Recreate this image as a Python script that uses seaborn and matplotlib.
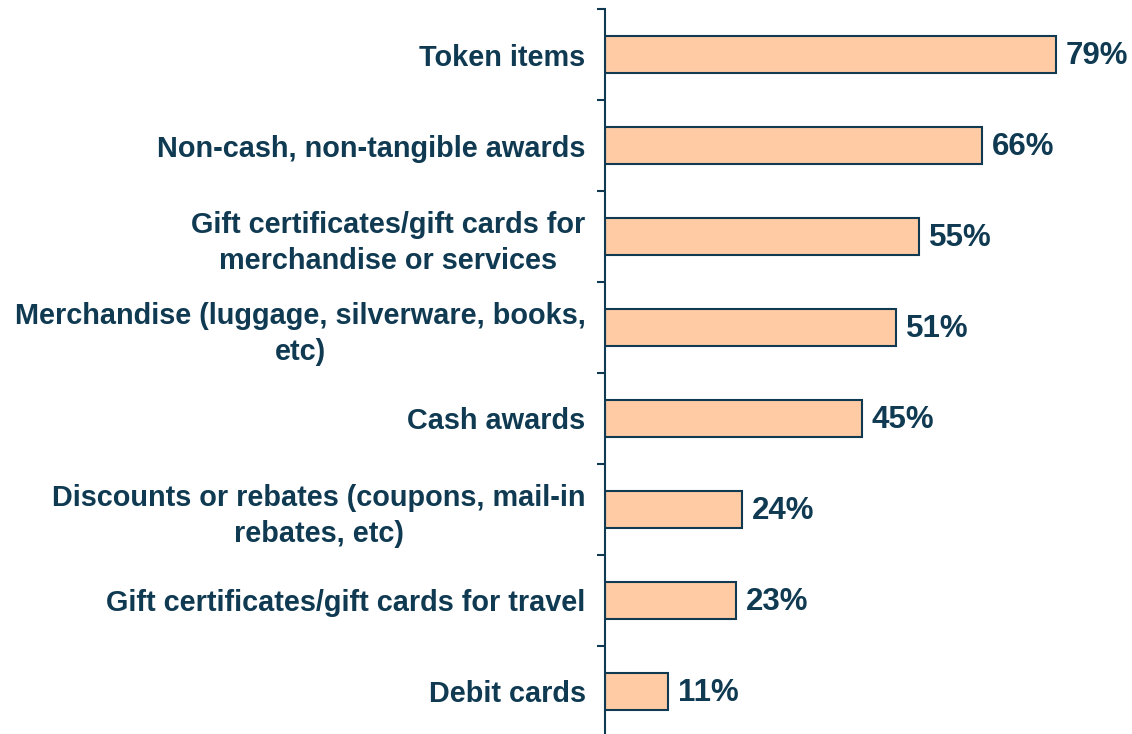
import pandas as pd
import seaborn as sns
import matplotlib.pyplot as plt
from matplotlib.ticker import FixedLocator

# Data
categories = [
    'Token items',
    'Non-cash, non-tangible awards',
    'Gift certificates/gift cards for\nmerchandise or services',
    'Merchandise (luggage, silverware, books,\netc)',
    'Cash awards',
    'Discounts or rebates (coupons, mail-in\nrebates, etc)',
    'Gift certificates/gift cards for travel',
    'Debit cards',
]
percent = [79, 66, 55, 51, 45, 24, 23, 11]

df = pd.DataFrame({'category': categories, 'percent': percent})

navy = '#0F3A52'
peach = '#FFCBA4'

sns.set_style('white')
plt.rcParams['font.family'] = ['Liberation Sans', 'DejaVu Sans']

fig = plt.figure(figsize=(11.32, 7.34), dpi=100)
ax = fig.add_axes([0.5345, -0.004, 0.454, 0.9917])

sns.barplot(data=df, y='category', x='percent', orient='h', color=peach,
            width=0.4, edgecolor=navy, linewidth=1.5, saturation=1, ax=ax)

for i, v in enumerate(percent):
    ax.annotate(f'{v}%', xy=(v, i), xytext=(7, -1), textcoords='offset points',
                ha='left', va='center', fontsize=22.5, fontweight='bold', color=navy)

ax.set_xlim(0, 90)
ax.set_ylim(7.5, -0.5)
ax.set_xlabel('')
ax.set_ylabel('')
ax.set_xticks([])

for side in ['top', 'right', 'bottom']:
    ax.spines[side].set_visible(False)
ax.spines['left'].set_color(navy)
ax.spines['left'].set_linewidth(1.5)

ax.yaxis.set_minor_locator(FixedLocator([i - 0.5 for i in range(len(categories) + 1)]))
ax.tick_params(axis='y', which='major', left=True, length=0, pad=14)
ax.tick_params(axis='y', which='minor', left=True, length=6, width=1.5, color=navy, direction='out')
for lbl in ax.get_yticklabels():
    lbl.set_fontsize(20.8)
    lbl.set_fontweight('bold')
    lbl.set_color(navy)
    lbl.set_horizontalalignment('right')
    lbl.set_multialignment('center')
    lbl.set_linespacing(1.32)

plt.savefig('out.png', dpi=100)
